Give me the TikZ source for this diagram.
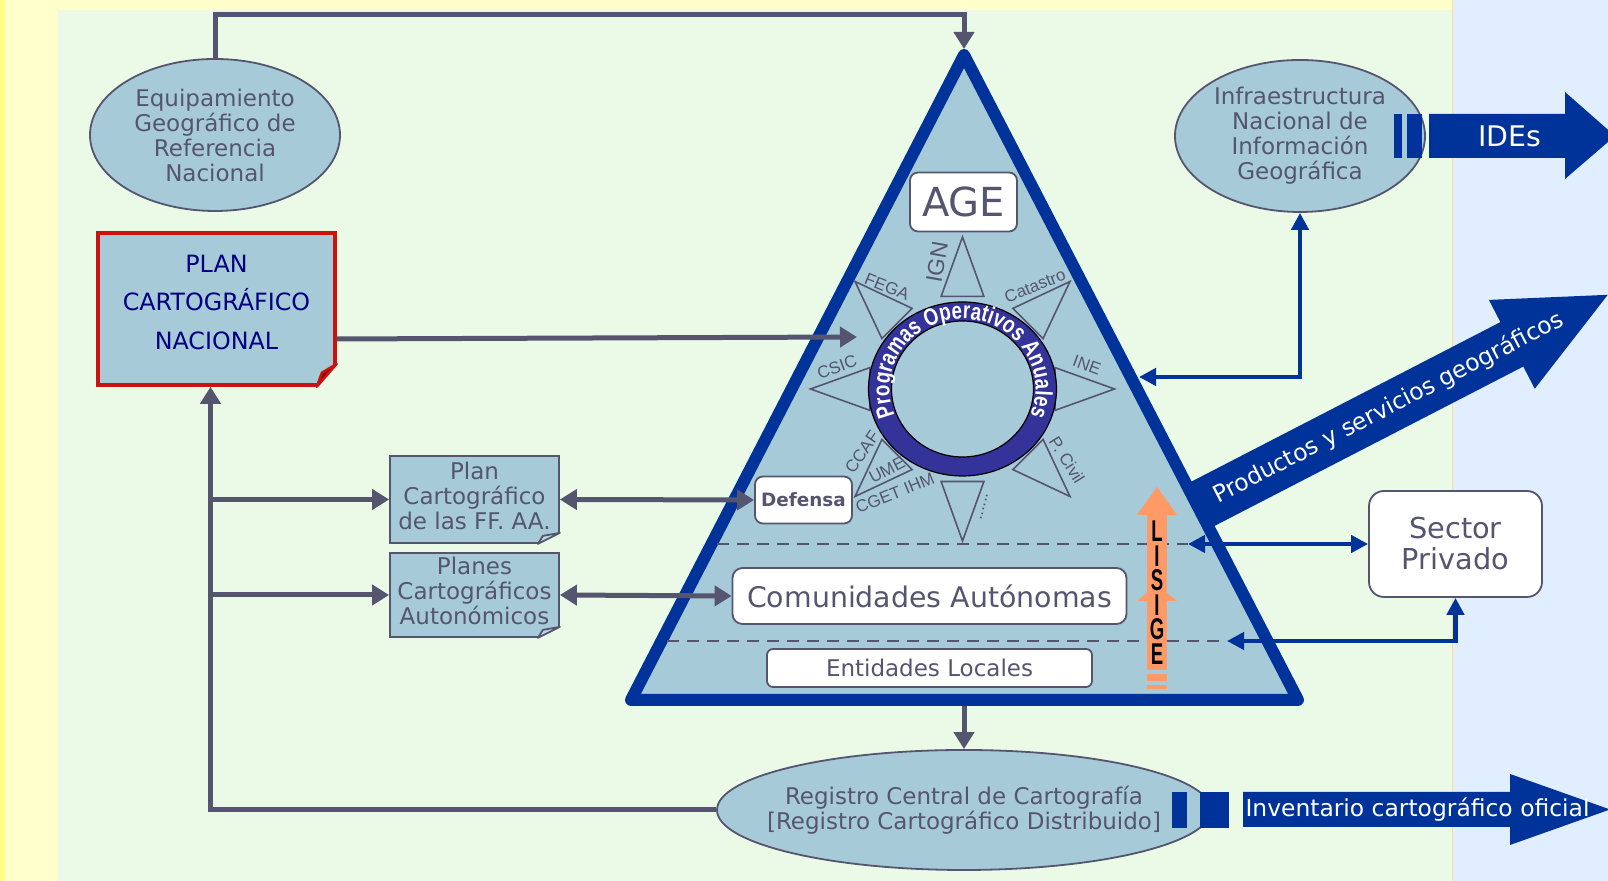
\documentclass[tikz,border=0pt]{standalone}
\usepackage{fontspec}
\setmainfont{DejaVu Sans}
\newfontfamily\starfont{Liberation Sans}
\newfontface\ringfont[FakeStretch=0.78]{Liberation Sans Bold}
\newfontface\lisfont[FakeStretch=0.62]{Liberation Sans Bold}
\usetikzlibrary{shapes.geometric,arrows.meta,decorations.text}

\definecolor{bgyellow}{RGB}{255,255,204}
\definecolor{stripyellow}{RGB}{255,255,136}
\definecolor{edgeyellow}{RGB}{255,224,138}
\definecolor{panelgreen}{RGB}{234,250,230}
\definecolor{panelblue}{RGB}{224,238,255}
\definecolor{boxfill}{RGB}{166,202,216}
\definecolor{foldfill}{RGB}{196,214,224}
\definecolor{greyline}{RGB}{85,85,112}
\definecolor{deepblue}{RGB}{0,51,153}
\definecolor{ringblue}{RGB}{51,51,153}
\definecolor{lisorange}{RGB}{255,153,102}
\definecolor{planred}{RGB}{204,17,17}
\definecolor{foldred}{RGB}{150,0,0}
\definecolor{plannavy}{RGB}{0,0,128}

\tikzset{
  gtip/.tip={Triangle[length=8.5pt,width=10pt]},
  btip/.tip={Triangle[length=8.5pt,width=8.5pt]},
  greyconn/.style={draw=greyline, line width=2.5pt, -gtip},
  greyboth/.style={draw=greyline, line width=2.5pt, gtip-gtip},
  blueboth/.style={draw=deepblue, line width=2.2pt, btip-btip},
  ovalbox/.style={ellipse, draw=greyline, fill=boxfill, line width=0.9pt, inner sep=0pt,
    minimum width=125pt, minimum height=76pt, text=greyline, align=center,
    font=\fontsize{11.5}{12.5}\selectfont},
  ovaltxt/.style={inner sep=0pt, text=greyline, align=center, font=\fontsize{11.5}{12.5}\selectfont},
  docbox/.style={rectangle, draw=greyline, fill=boxfill, line width=0.9pt, inner sep=0pt,
    minimum width=84.5pt, text=greyline, align=center, font=\fontsize{11.5}{12.5}\selectfont},
  whitebox/.style={rectangle, rounded corners=4pt, draw=greyline, fill=white, line width=0.9pt,
    inner sep=0pt, text=greyline, align=center},
  starlbl/.style={inner sep=0pt, text=greyline, font=\starfont\fontsize{8.5}{9}\selectfont},
  spike/.style={draw=greyline, line width=0.8pt},
  dashline/.style={draw=greyline, line width=1.2pt, dash pattern=on 6pt off 4pt},
  arrowtxt/.style={inner sep=0pt, text=white},
  lisletters/.style={inner sep=0pt, align=center, text=black, font=\lisfont\fontsize{15}{12.25}\selectfont}
}

\begin{document}
\begin{tikzpicture}[x=0.5pt, y=0.5pt]
  \useasboundingbox (0,0) rectangle (1608,881);
  \clip (0,0) rectangle (1608,881);

  % backgrounds
  \fill[bgyellow] (0,0) rectangle (1608,881);
  \fill[stripyellow] (0,0) rectangle (5,881);
  \fill[panelgreen] (58,0) rectangle (1452,871);
  \fill[panelblue] (1453,0) rectangle (1608,881);
  \draw[edgeyellow, line width=0.8pt] (1452.5,0) -- (1452.5,881);

  % big arrow (behind the pyramid)
  \begin{scope}[shift={(1203.5,377.5)}, rotate=27.3]
    \fill[deepblue] (-30,-25) -- (347,-25) -- (347,-50) -- (455,0) -- (347,50) -- (347,25) -- (-30,25) -- cycle;
    \node[arrowtxt, rotate=27.3, font=\fontsize{11.7}{12}\selectfont] (prodtxt) at (208,0) {Productos y servicios geográficos};
  \end{scope}

  % pyramid
  \coordinate (tritop) at (964,826);
  \coordinate (trileft) at (631,181);
  \coordinate (triright) at (1298,181);
  \filldraw[fill=boxfill, draw=deepblue, line width=6pt, line join=round] (tritop) -- (trileft) -- (triright) -- cycle;
  \coordinate (apex) at (964,832);
  \coordinate (tribot) at (964,175);

  % compass star
  \coordinate (ring) at (962.5,492);
  \foreach \d in {0,45,...,315}{
    \draw[spike] ([shift={({\d+13}:95)}]ring) -- ([shift={(\d:152)}]ring) -- ([shift={({\d-13}:95)}]ring) -- cycle;
  }
  \fill[ringblue, even odd rule] (ring) ellipse [x radius=94, y radius=87] (ring) ellipse [x radius=71, y radius=68];
  \draw[line width=0.6pt] (ring) ellipse [x radius=94, y radius=87] (ring) ellipse [x radius=71, y radius=68];
  \path[decorate, decoration={text along path, text align=center,
      text={|\ringfont\fontsize{12}{12}\selectfont\color{white}|Programas Operativos Anuales}}]
    ([shift={(215:73 and 70)}]ring) arc[start angle=215, end angle=-35, x radius=73, y radius=70];

  % star labels
  \foreach \nm/\lbl/\xx/\yy/\rot in
    {fega/FEGA/887/594/-22, cat/Catastro/1035/595/22,
     ine/INE/1087/516/-20, csic/CSIC/837/514/20, pciv/P. Civil/1067/421/-58,
     ccaf/CCAF/862/429/55, ume/UME/887/411/27, cget/CGET IHM/895/388/22}{
    \node[starlbl, rotate=\rot] (\nm) at (\xx,\yy) {\lbl};
  }
  \node[starlbl, rotate=80, font=\starfont\fontsize{11.5}{12}\selectfont] (ign) at (937,619) {IGN};
  \node[starlbl, rotate=76] (more) at (984,374) {......};

  % levels of the pyramid
  \node[whitebox, minimum width=53.5pt, minimum height=29.5pt, font=\fontsize{20}{20}\selectfont] (age) at (963.5,679) {AGE};
  \node[whitebox, minimum width=48.5pt, minimum height=23.5pt, font=\bfseries\fontsize{9.2}{10}\selectfont] (def) at (803.5,381) {Defensa};
  \node[whitebox, rounded corners=5pt, minimum width=197pt, minimum height=28pt, font=\fontsize{14.2}{15}\selectfont] (ca) at (929.5,285) {Comunidades Autónomas};
  \node[whitebox, rounded corners=3pt, minimum width=162.5pt, minimum height=19pt, font=\fontsize{11.5}{12}\selectfont] (el) at (929.5,213) {Entidades Locales};

  \coordinate (dashAs) at (717,337);
  \coordinate (dashAe) at (1188,337);
  \coordinate (dashBs) at (667,240);
  \coordinate (dashBe) at (1227,240);
  \draw[dashline] (dashAs) -- (dashAe);
  \draw[dashline] (dashBs) -- (dashBe);

  % LISIGE arrow
  \fill[lisorange] (1147,211) rectangle (1167,366);
  \fill[lisorange] (1137,366) -- (1177,366) -- (1157,394) -- cycle;
  \fill[lisorange] (1137,280) -- (1177,280) -- (1157,296) -- cycle;
  \fill[lisorange] (1147,200) rectangle (1167,207);
  \fill[lisorange] (1147,192) rectangle (1167,196);
  \node[lisletters] (lisige) at (1157,288.5) {L\\I\\S\\I\\G\\E};

  % ovals
  \node[ovalbox] (eq) at (215,746) {Equipamiento\\Geográfico de\\Referencia\\Nacional};
  \node[ovalbox] (infra) at (1300,745) {Infraestructura\\Nacional de\\Información\\Geográfica};
  \node[ovalbox, minimum width=247pt, minimum height=60pt] (reg) at (964,71) {};
  \node[ovaltxt] (regtxt) at (reg.center) {Registro Central de Cartografía\\{[}Registro Cartográfico Distribuido{]}};

  % plans
  \node[docbox, draw=planred, line width=1.8pt, text=plannavy, minimum width=118.5pt, minimum height=76pt,
    text depth=7pt, font=\fontsize{11.9}{19.25}\selectfont] (plan) at (216.5,572) {PLAN\\CARTOGRÁFICO\\NACIONAL};
  \fill[panelgreen] ([xshift=-10pt]plan.south east) -- ([shift={(-10pt,-2pt)}]plan.south east)
    -- ([shift={(2pt,-2pt)}]plan.south east) -- ([shift={(2pt,11.5pt)}]plan.south east)
    -- ([yshift=11.5pt]plan.south east) -- cycle;
  \filldraw[fill=foldred, draw=planred, line width=1.2pt, line join=round] ([xshift=-10pt]plan.south east)
    -- ([yshift=11.5pt]plan.south east) -- ([shift={(-7.5pt,7pt)}]plan.south east) -- cycle;
  \coordinate (spine) at ([xshift=-3pt]plan.south);

  \node[docbox, minimum height=43.5pt, text depth=4pt] (ff) at (474.5,381.5) {Plan\\Cartográfico\\de las FF. AA.};
  \node[docbox, minimum height=42pt, text depth=4pt] (pa) at (474.5,286) {Planes\\Cartográficos\\Autonómicos};
  \foreach \b in {ff,pa}{
    \fill[panelgreen] ([xshift=-11pt]\b.south east) -- ([shift={(-11pt,-2pt)}]\b.south east)
      -- ([shift={(2pt,-2pt)}]\b.south east) -- ([shift={(2pt,5.5pt)}]\b.south east)
      -- ([yshift=5.5pt]\b.south east) -- cycle;
    \filldraw[fill=foldfill, draw=greyline, line width=0.9pt, line join=round] ([xshift=-11pt]\b.south east)
      -- ([yshift=5.5pt]\b.south east) -- ([shift={(-8.5pt,4pt)}]\b.south east) -- cycle;
  }

  \node[whitebox, rounded corners=7.5pt, minimum width=86.5pt, minimum height=53pt,
    font=\fontsize{14.4}{15.5}\selectfont] (sp) at (1455.5,337) {Sector\\Privado};

  % outgoing arrows
  \fill[deepblue] (1394,723) rectangle (1401.5,767);
  \fill[deepblue] (1407,723) rectangle (1422,767);
  \fill[deepblue] (1429,723) -- (1565,723) -- (1565,702) -- (1615,745) -- (1565,789) -- (1565,767) -- (1429,767) -- cycle;
  \node[arrowtxt, font=\fontsize{14.2}{15}\selectfont] (idetxt) at (1510,745) {IDEs};

  \fill[deepblue] (1172,53) rectangle (1187,89);
  \fill[deepblue] (1200,53) rectangle (1229,89);
  \fill[deepblue] (1243,54) -- (1510,54) -- (1510,36) -- (1610,71.5) -- (1510,107) -- (1510,89) -- (1243,89) -- cycle;
  \node[arrowtxt, font=\fontsize{11.7}{12}\selectfont] (invtxt) at (1417.5,71.5) {Inventario cartográfico oficial};

  % connectors
  \coordinate (topbend) at (964,866);
  \coordinate (potip) at (857,544);
  \coordinate (ideR) at (1139,504);
  \draw[greyconn] (eq.north) |- (topbend) -- (apex);
  \draw[greyconn] ([yshift=-15pt]plan.east) -- (potip);
  \draw[greyconn] (reg.west) -| (spine);
  \draw[greyconn] (spine |- ff.west) -- (ff.west);
  \draw[greyconn] (spine |- pa.west) -- (pa.west);
  \draw[greyboth] (ff.east) -- (def.west);
  \draw[greyboth] (pa.east) -- (ca.west);
  \draw[greyconn] (tribot) -- (reg.north);
  \draw[blueboth] (infra.south) |- (ideR);
  \draw[blueboth] (dashAe) -- (sp.west);
  \draw[blueboth] (sp.south) |- (dashBe);
\end{tikzpicture}
\end{document}
